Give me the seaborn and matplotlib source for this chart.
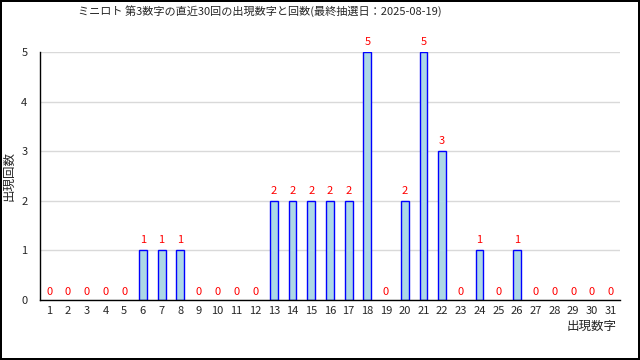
import numpy as np
import pandas as pd
import seaborn as sns
import matplotlib.pyplot as plt

# ミニロト 第3数字 直近30回の出現回数
numbers = [str(i) for i in range(1, 32)]
counts = [0, 0, 0, 0, 0, 1, 1, 1, 0, 0, 0, 0, 2, 2, 2, 2, 2, 5, 0, 2,
          5, 3, 0, 1, 0, 1, 0, 0, 0, 0, 0]

title = 'ミニロト 第3数字の直近30回の出現数字と回数(最終抽選日：2025-08-19)'

sns.set_style('white')
plt.rcParams['font.family'] = ['Noto Sans CJK JP', 'DejaVu Sans']

df = pd.DataFrame({'num': numbers, 'cnt': counts})

fig = plt.figure(figsize=(6.4, 3.6), dpi=100, linewidth=1.5, edgecolor='black')
ax = fig.add_axes([0.0625, 0.1667, 0.906, 0.689])

sns.barplot(data=df, x='num', y='cnt', order=numbers, color='#add8e6',
            saturation=1, edgecolor='#0000ff', linewidth=1.0, width=0.42, ax=ax)

# 0回の棒は枠線を出さない
for p, c in zip(ax.patches, counts):
    if c == 0:
        p.set_visible(False)

ax.set_xlim(-0.5, 30.5)
ax.set_ylim(0, 5)
ax.set_yticks(range(0, 6))
ax.yaxis.grid(True, color='#d9d9d9', linewidth=1)
ax.set_axisbelow(True)

for s in ['top', 'right']:
    ax.spines[s].set_visible(False)
for s in ['left', 'bottom']:
    ax.spines[s].set_color('black')
    ax.spines[s].set_linewidth(1)

ax.set_xticks(np.arange(-0.5, 31, 1), minor=True)
ax.tick_params(axis='x', which='major', length=0, pad=4, labelsize=8)
ax.tick_params(axis='x', which='minor', direction='in', length=4, color='black')
ax.tick_params(axis='y', length=0, pad=9, labelsize=8)

for i, c in enumerate(counts):
    y = c + 0.1 if c > 0 else 0.07
    ax.text(i, y, str(c), color='red', ha='center', va='bottom', fontsize=8)

ax.set_xlabel('')
ax.set_ylabel('')
fig.text(0.004, 0.51, '出現回数', rotation=90, ha='left', va='center', fontsize=9)
fig.text(0.964, 0.075, '出現数字', ha='right', va='bottom', fontsize=9)
fig.text(0.406, 0.985, title, ha='center', va='top', fontsize=8)

fig.savefig('out.png', dpi=100)
